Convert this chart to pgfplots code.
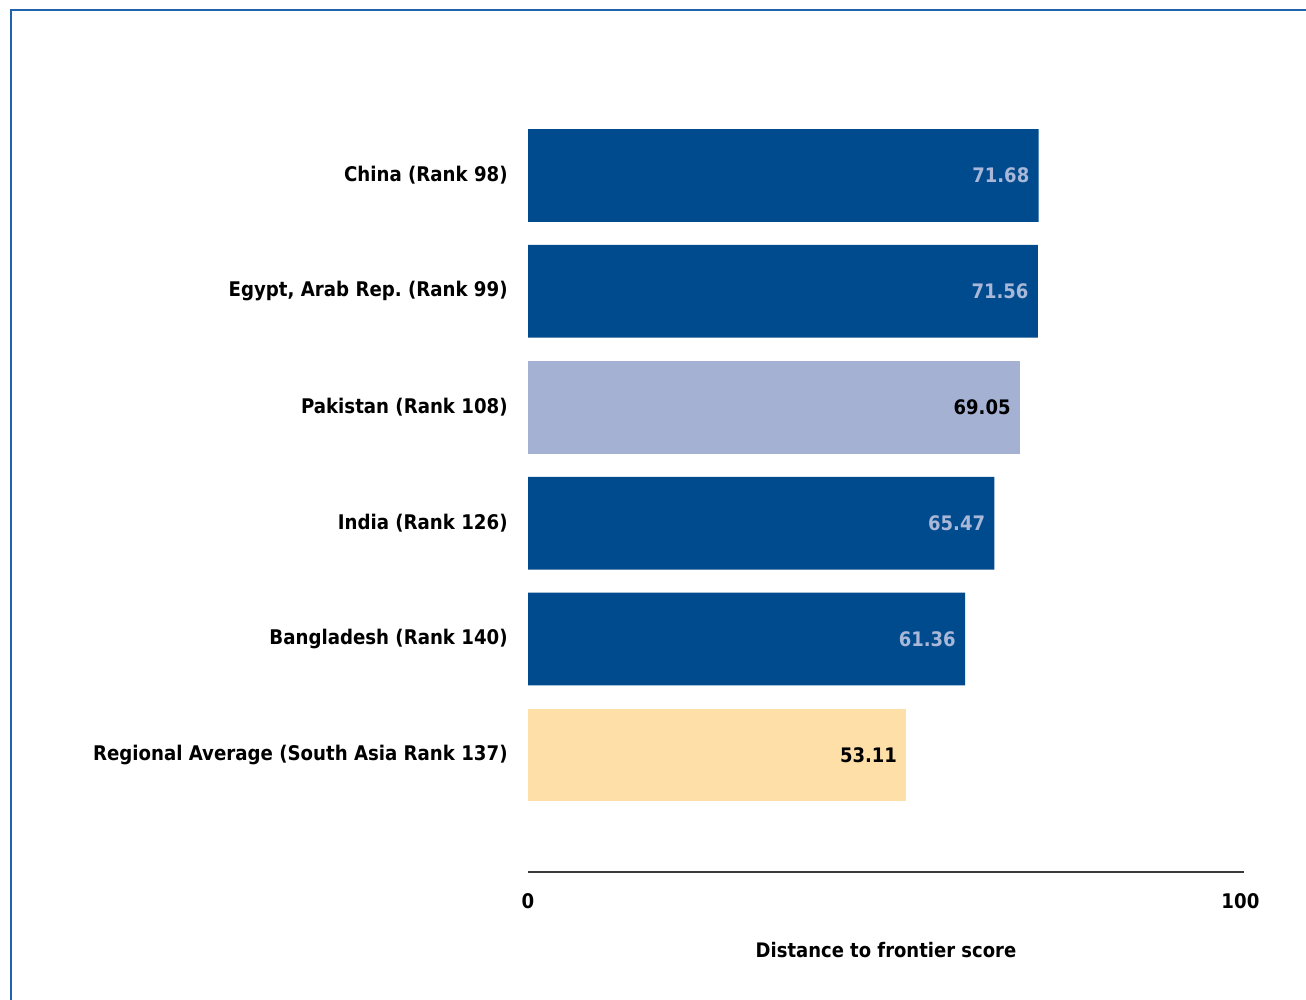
\documentclass[border=0pt]{standalone}
\usepackage{fontspec}
\setmainfont{DejaVu Sans Condensed}
\usepackage{pgfplots}
\pgfplotsset{compat=1.18}
\frenchspacing
\definecolor{darkbar}{HTML}{004B8D}
\definecolor{lightbar}{HTML}{A5B1D3}
\definecolor{avgbar}{HTML}{FFDFA8}
\definecolor{vallab}{HTML}{A9B7D8}
\definecolor{frameblue}{HTML}{2163AC}
\definecolor{axisgray}{HTML}{3A3A3A}
\begin{document}
\begin{tikzpicture}
\path[use as bounding box] (0pt,0pt) rectangle (653pt,500pt);
\draw[frameblue, line width=1.3pt] (5.5pt,-5pt) -- (5.5pt,495pt) -- (660pt,495pt);
\begin{axis}[
  at={(264pt,64pt)}, anchor=south west,
  scale only axis, width=358pt, height=406.25pt,
  xmin=0, xmax=100.5, ymin=-1.009, ymax=6,
  xbar, bar width=0.8,
  axis x line*=bottom, axis y line*=left,
  x axis line style={-, draw=axisgray, line width=1pt},
  y axis line style={draw=none},
  major tick length=0pt,
  xtick={0,100},
  ytick={0,1,2,3,4,5},
  yticklabels={Regional Average (South Asia Rank 137),Bangladesh (Rank 140),India (Rank 126),Pakistan (Rank 108),{Egypt, Arab Rep.\ (Rank 99)},China (Rank 98)},
  /pgf/number format/assume math mode=true,
  tick label style={font=\fontsize{10.1}{12}\selectfont\bfseries, text=black},
  yticklabel style={anchor=east, inner sep=0pt, xshift=-10pt},
  xticklabel style={anchor=base, inner sep=0pt, yshift=-18.5pt},
  xlabel={Distance to frontier score},
  xlabel style={at={(axis description cs:0.5,0)}, anchor=base, inner sep=0pt, yshift=-43pt, font=\fontsize{10}{12}\selectfont\bfseries},
  point meta=x,
  nodes near coords={\pgfmathprintnumber[fixed,fixed zerofill,precision=2,assume math mode=true]{\pgfplotspointmeta}},
  every node near coord/.append style={anchor=east, inner sep=0pt, xshift=-4.5pt, font=\fontsize{10}{12}\selectfont\bfseries},
  clip=false,
]
\addplot[fill=darkbar, draw=none, bar shift=0pt, nodes near coords style={text=vallab}] coordinates {(71.68,5) (71.56,4) (65.47,2) (61.36,1)};
\addplot[fill=lightbar, draw=none, bar shift=0pt, nodes near coords style={text=black}] coordinates {(69.05,3)};
\addplot[fill=avgbar, draw=none, bar shift=0pt, nodes near coords style={text=black}] coordinates {(53.11,0)};
\end{axis}
\end{tikzpicture}
\end{document}
